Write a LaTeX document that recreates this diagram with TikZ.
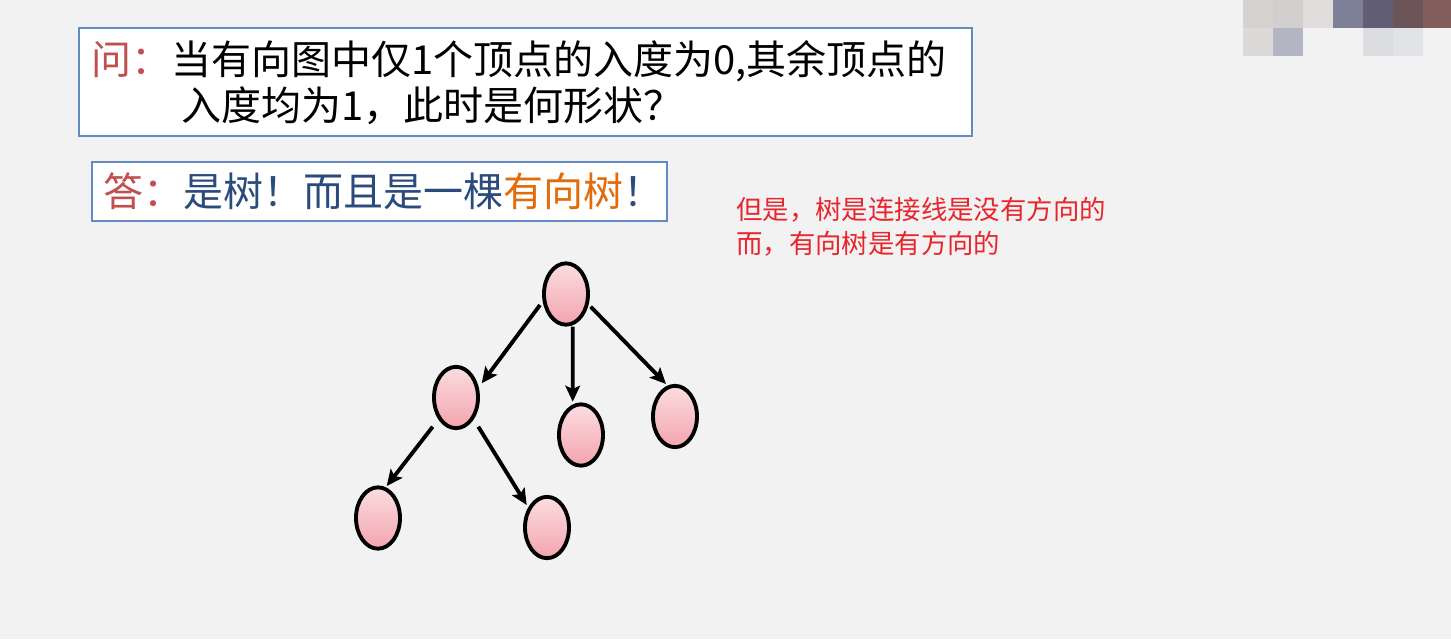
\documentclass[tikz,border=0pt]{standalone}
\usepackage{fontspec}
\newfontfamily\cjk{Noto Sans CJK SC}
\usetikzlibrary{shapes.geometric,arrows.meta,calc}
\definecolor{bg}{HTML}{F2F2F2}
\definecolor{boxblue}{HTML}{6589C2}
\definecolor{qred}{HTML}{C0504D}
\definecolor{dblue}{HTML}{2A4B7C}
\definecolor{ora}{HTML}{E36C0A}
\definecolor{nred}{HTML}{E8252D}
\definecolor{pinktop}{HTML}{FBDDE0}
\definecolor{pinkbot}{HTML}{F3A4AE}
\tikzset{
  qbox/.style={draw=boxblue, line width=2.2pt, fill=white},
  bigtxt/.style={anchor=base west, inner sep=0pt, font=\cjk\fontsize{30}{36}\selectfont},
  notetxt/.style={anchor=base west, inner sep=0pt, text=nred, font=\cjk\fontsize{19.8}{24}\selectfont},
  vtx/.style={ellipse, draw=black, line width=2.9pt, inner sep=0pt,
    minimum width=33pt, minimum height=46pt, top color=pinktop, bottom color=pinkbot},
  arr/.style={line width=2.9pt, draw=black, -{Stealth[length=12pt,width=11pt,inset=2.5pt]}}
}
\begin{document}
\begin{tikzpicture}[x=0.75pt,y=-0.75pt]
\fill[bg] (0,0) rectangle (1451,639);
\useasboundingbox (0,0) rectangle (1451,639);
% mosaic
\fill[fill={rgb,255:red,213;green,210;blue,207}] (1243,0) rectangle (1273,28);
\fill[fill={rgb,255:red,210;green,207;blue,207}] (1273,0) rectangle (1303,28);
\fill[fill={rgb,255:red,224;green,221;blue,220}] (1303,0) rectangle (1333,28);
\fill[fill={rgb,255:red,126;green,128;blue,152}] (1333,0) rectangle (1363,28);
\fill[fill={rgb,255:red,97;green,94;blue,116}] (1363,0) rectangle (1393,28);
\fill[fill={rgb,255:red,107;green,85;blue,89}] (1393,0) rectangle (1423,28);
\fill[fill={rgb,255:red,131;green,93;blue,91}] (1423,0) rectangle (1451,28);
\fill[fill={rgb,255:red,219;green,218;blue,216}] (1243,28) rectangle (1273,56);
\fill[fill={rgb,255:red,179;green,181;blue,195}] (1273,28) rectangle (1303,56);
\fill[fill={rgb,255:red,220;green,221;blue,225}] (1363,28) rectangle (1393,56);
\fill[fill={rgb,255:red,226;green,227;blue,230}] (1393,28) rectangle (1423,56);
% boxes
\draw[qbox] (79,28) rectangle (972,136);
\draw[qbox] (92,162) rectangle (667,221);
\node[bigtxt] (q1) at (91,74) {{\color{qred}问：}当有向图中仅1个顶点的入度为0,其余顶点的};
\node[bigtxt] (q2) at (181,120) {入度均为1，此时是何形状？};
\node[bigtxt, text=dblue] (a1) at (103,206) {{\color{qred}答：}是树！而且是一棵{\color{ora}有向树}！};
\node[notetxt] (n1) at (736,219) {但是，树是连接线是没有方向的};
\node[notetxt] (n2) at (736,253) {而，有向树是有方向的};
% tree
\node[vtx] (root) at (566,294) {};
\node[vtx] (ml) at (456,397.5) {};
\node[vtx] (md) at (581,435) {};
\node[vtx] (rt) at (675,416.5) {};
\node[vtx] (bl) at (378,518) {};
\node[vtx] (br) at (547,527.5) {};
\draw[arr] ($(root)+(-26,11)$) -- ($(ml)+(25.7,-14.2)$);
\draw[arr] ($(root)+(6.7,32.7)$) -- ($(md)+(-8.3,-33.3)$);
\draw[arr] ($(root)+(24.7,12.7)$) -- ($(rt)+(-9,-32.5)$);
\draw[arr] ($(ml)+(-23.3,29.2)$) -- ($(bl)+(8.7,-32)$);
\draw[arr] ($(ml)+(22.3,29.2)$) -- ($(br)+(-20.3,-22.5)$);
\end{tikzpicture}
\end{document}
